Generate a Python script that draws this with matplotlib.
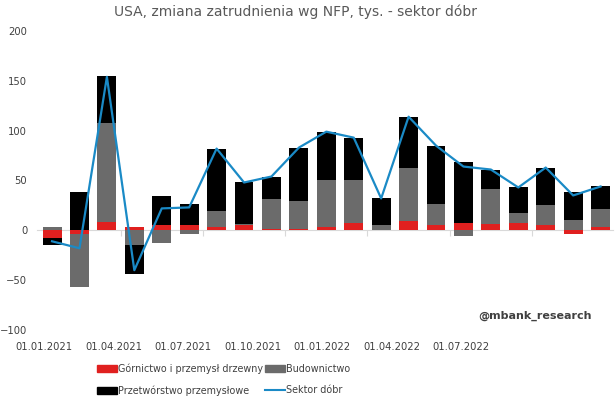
import matplotlib
matplotlib.use("Agg")
import matplotlib.pyplot as plt
import matplotlib.transforms as mtransforms
from matplotlib.patches import Patch
from matplotlib.lines import Line2D
import numpy as np

plt.rcParams["font.family"] = ["DejaVu Sans"]

# miesiące 01.2021 - 09.2022
miesiace = ["01.2021", "02.2021", "03.2021", "04.2021", "05.2021", "06.2021", "07.2021",
            "08.2021", "09.2021", "10.2021", "11.2021", "12.2021", "01.2022", "02.2022",
            "03.2022", "04.2022", "05.2022", "06.2022", "07.2022", "08.2022", "09.2022"]
gornictwo = [-8, -4, 8, 3, 5, 5, 3, 5, 1, 1, 3, 7, 0, 9, 5, 7, 6, 7, 5, -4, 3]
budownictwo = [3, -53, 100, -15, -13, -4, 16, 1, 30, 28, 47, 44, 5, 54, 21, -6, 35, 10, 20, 10, 18]
przetworstwo = [-7, 38, 47, -29, 29, 21, 63, 42, 23, 54, 49, 42, 27, 51, 59, 62, 20, 26, 38, 28, 23]
sektor_dobr = [-11, -18, 154, -40, 22, 23, 82, 48, 54, 83, 99, 93, 32, 114, 85, 64, 61, 43, 63, 35, 44]

x_labels = ["01.01.2021", "01.04.2021", "01.07.2021", "01.10.2021",
            "01.01.2022", "01.04.2022", "01.07.2022"]

red = "#e0201f"
gray = "#6b6b6b"
black = "#000000"
blue = "#1a8ac6"
txt = "#404040"

fig = plt.figure(figsize=(6.16, 4.0), dpi=100)
ax = fig.add_axes([0.060, 0.175, 0.935, 0.7475])

x = np.arange(len(miesiace))
pos = np.zeros(len(x))
neg = np.zeros(len(x))
for vals, col in [(gornictwo, red), (budownictwo, gray), (przetworstwo, black)]:
    v = np.array(vals, dtype=float)
    bottom = np.where(v >= 0, pos, neg)
    ax.bar(x, v, width=0.69, bottom=bottom, color=col, linewidth=0, zorder=2)
    pos = pos + np.where(v >= 0, v, 0)
    neg = neg + np.where(v < 0, v, 0)

ax.plot(x, sektor_dobr, color=blue, linewidth=1.6, zorder=3)

ax.set_ylim(-100, 200)
ax.set_xlim(-0.55, 20.45)
ax.set_yticks(range(-100, 201, 50))
ax.tick_params(axis="y", length=0, pad=7, labelsize=7.2, labelcolor=txt)

for s in ["top", "right", "left"]:
    ax.spines[s].set_visible(False)
ax.spines["bottom"].set_position(("data", 0))
ax.spines["bottom"].set_color("#d9d9d9")
ax.spines["bottom"].set_zorder(1)
ax.set_xticks(np.arange(2.5, 20, 3))
ax.set_xticklabels([])
ax.tick_params(axis="x", length=4, color="#d9d9d9", direction="out")

# etykiety dat
trans = mtransforms.blended_transform_factory(ax.transData, ax.transAxes)
label_pos = [-0.29, 2.25, 4.78, 7.31, 9.84, 12.4, 14.9]
for p, lab in zip(label_pos, x_labels):
    ax.text(p, -0.057, lab, transform=trans, ha="center", va="center",
            fontsize=7.2, color=txt)

fig.text(296 / 616, 1 - 12 / 400, "USA, zmiana zatrudnienia wg NFP, tys. - sektor dóbr",
         ha="center", va="center", fontsize=10, color="#595959")
fig.text(535 / 616, 1 - 316 / 400, "@mbank_research", ha="center", va="center",
         fontsize=8, fontweight="bold", color=txt)

handles = [Patch(color=red), Patch(color=black), Patch(color=gray),
           Line2D([0], [0], color=blue, linewidth=1.5)]
labels = ["Górnictwo i przemysł drzewny", "Przetwórstwo przemysłowe",
          "Budownictwo", "Sektor dóbr"]
fig.legend(handles, labels, ncol=2, loc="upper left", bbox_to_anchor=(97 / 616, 1 - 363 / 400),
           frameon=False, fontsize=6.9, labelcolor=txt, handlelength=2.1, handleheight=0.7,
           handletextpad=0.1, columnspacing=0.15, labelspacing=1.25, borderpad=0,
           borderaxespad=0)

fig.savefig("out.png", dpi=100)
